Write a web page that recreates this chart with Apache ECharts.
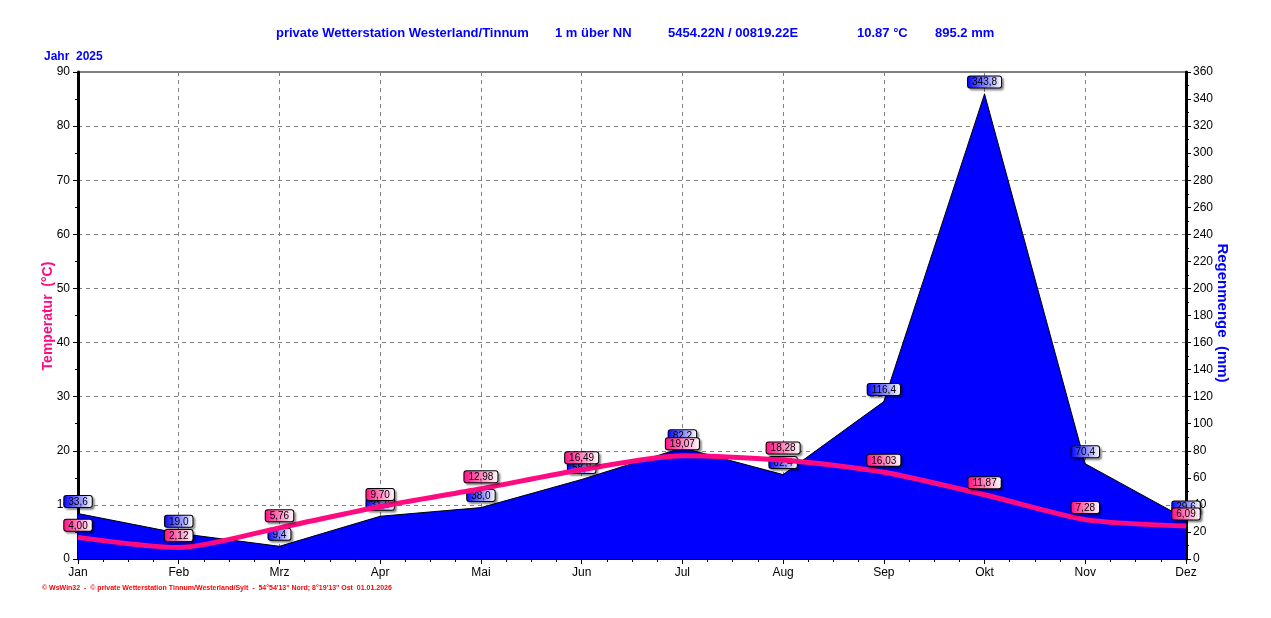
<!DOCTYPE html>
<html>
<head>
<meta charset="utf-8">
<script src="https://cdn.jsdelivr.net/npm/echarts@6/dist/echarts.min.js"></script>
<style>
  html, body { margin: 0; padding: 0; background: #fff; }
  #chart { width: 1271px; height: 618px; }
</style>
</head>
<body>
<div id="chart"></div>
<script>
// Months on the x axis
const months = ['Jan', 'Feb', 'Mrz', 'Apr', 'Mai', 'Jun', 'Jul', 'Aug', 'Sep', 'Okt', 'Nov', 'Dez'];
// Monthly mean temperature (°C)
const temperature = [4.00, 2.12, 5.76, 9.70, 12.98, 16.49, 19.07, 18.28, 16.03, 11.87, 7.28, 6.09];
// Monthly rain amount (mm)
const rain = [33.6, 19.0, 9.4, 31.6, 38.0, 58.8, 82.2, 62.4, 116.4, 343.8, 70.4, 29.6];

const FONT = '"Liberation Sans", Arial, sans-serif';
const BLUE = '#0000ff';
const PINK = '#ff0a80';

// Turn the arrays into [index, value] pairs for the value x axis
const tempData = temperature.map((v, i) => [i, v]);
const rainData = rain.map((v, i) => [i, v]);

// Box label with gradient background like the original software
function boxLabel(color, digits) {
    return {
        show: true,
        position: 'top',
        distance: 6,
        fontFamily: FONT,
        fontSize: 10,
        color: '#000',
        padding: [1, 4, 0, 4],
        borderColor: '#000',
        borderWidth: 1,
        borderRadius: 2,
        backgroundColor: new echarts.graphic.LinearGradient(0, 0, 1, 0, [
            { offset: 0, color: color },
            { offset: 1, color: '#ffffff' }
        ]),
        shadowColor: 'rgba(0,0,0,0.35)',
        shadowOffsetX: 2,
        shadowOffsetY: 2,
        shadowBlur: 2,
        formatter: p => p.value[1].toFixed(digits).replace('.', ',')
    };
}

const chartDom = document.getElementById('chart');
const myChart = echarts.init(chartDom);

const option = {
    animation: false,
    backgroundColor: '#ffffff',
    grid: { left: 78, right: 85, top: 72, bottom: 59, show: true, borderColor: '#000', borderWidth: 1 },
    graphic: [
        { type: 'text', left: 276, top: 27, style: { text: 'private Wetterstation Westerland/Tinnum', fill: BLUE, font: 'bold 13px ' + FONT } },
        { type: 'text', left: 555, top: 27, style: { text: '1 m über NN', fill: BLUE, font: 'bold 13px ' + FONT } },
        { type: 'text', left: 668, top: 27, style: { text: '5454.22N / 00819.22E', fill: BLUE, font: 'bold 13px ' + FONT } },
        { type: 'text', left: 857, top: 27, style: { text: '10.87 °C', fill: BLUE, font: 'bold 13px ' + FONT } },
        { type: 'text', left: 935, top: 27, style: { text: '895.2 mm', fill: BLUE, font: 'bold 13px ' + FONT } },
        { type: 'text', left: 44, top: 51, style: { text: 'Jahr  2025', fill: BLUE, font: 'bold 12px ' + FONT } },
        {
            type: 'text', x: 48, y: 316, rotation: Math.PI / 2,
            style: { text: 'Temperatur  (°C)', fill: PINK, font: 'bold 14px ' + FONT, textAlign: 'center', textVerticalAlign: 'middle' }
        },
        {
            type: 'text', x: 1222, y: 313, rotation: -Math.PI / 2,
            style: { text: 'Regenmenge  (mm)', fill: BLUE, font: 'bold 15px ' + FONT, textAlign: 'center', textVerticalAlign: 'middle' }
        },
        {
            type: 'text', left: 42, top: 585,
            style: { text: '© WsWin32  -  © private Wetterstation Tinnum/Westerland/Sylt  -  54°54\'13" Nord; 8°19\'13" Ost  01.01.2026', fill: '#ff0000', font: 'bold 7px ' + FONT }
        }
    ],
    xAxis: {
        type: 'value',
        min: 0,
        max: 11,
        interval: 1,
        axisLine: { lineStyle: { color: '#000', width: 1 } },
        axisTick: { length: 5, lineStyle: { color: '#000' } },
        minorTick: { show: true, splitNumber: 4, length: 3, lineStyle: { color: '#000' } },
        axisLabel: { formatter: v => months[v], color: '#000', fontFamily: FONT, fontSize: 12, margin: 8 },
        splitLine: { show: true, lineStyle: { color: '#808080', type: [4, 4], width: 1 } }
    },
    yAxis: [
        {
            type: 'value',
            min: 0,
            max: 90,
            interval: 10,
            position: 'left',
            axisLine: { show: true, lineStyle: { color: '#000', width: 3 } },
            axisTick: { show: true, length: 5, lineStyle: { color: '#000' } },
            minorTick: { show: true, splitNumber: 2, length: 3, lineStyle: { color: '#000' } },
            axisLabel: { color: '#000', fontFamily: FONT, fontSize: 12, margin: 8 },
            splitLine: { show: true, lineStyle: { color: '#808080', type: [4, 4], width: 1 } }
        },
        {
            type: 'value',
            min: 0,
            max: 360,
            interval: 20,
            position: 'right',
            axisLine: { show: true, lineStyle: { color: '#000', width: 3 } },
            axisTick: { show: true, length: 5, lineStyle: { color: '#000' } },
            minorTick: { show: true, splitNumber: 2, length: 3, lineStyle: { color: '#000' } },
            axisLabel: { color: '#000', fontFamily: FONT, fontSize: 12, margin: 7 },
            splitLine: { show: false }
        }
    ],
    series: [
        {
            name: 'Regenmenge',
            type: 'line',
            yAxisIndex: 1,
            data: rainData,
            z: 2,
            symbol: 'circle',
            symbolSize: 1,
            itemStyle: { color: '#000' },
            lineStyle: { color: '#000', width: 1 },
            areaStyle: { color: BLUE, opacity: 1 },
            label: boxLabel(BLUE, 1)
        },
        {
            name: 'Temperatur',
            type: 'line',
            yAxisIndex: 0,
            data: tempData,
            z: 4,
            smooth: 0.25,
            symbol: 'circle',
            symbolSize: 1,
            itemStyle: { color: PINK },
            lineStyle: { color: PINK, width: 5 },
            label: boxLabel(PINK, 2)
        }
    ]
};

myChart.setOption(option);
</script>
</body>
</html>
